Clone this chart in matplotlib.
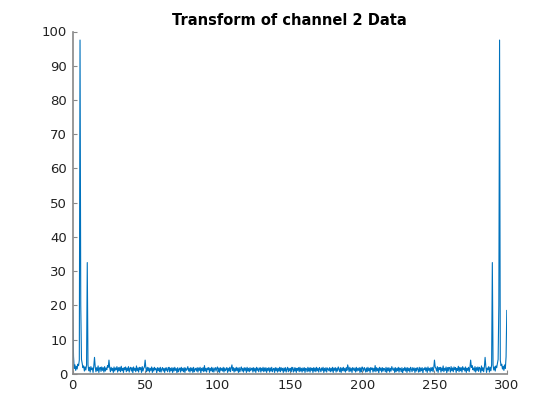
import numpy as np
import matplotlib
matplotlib.use("Agg")
import matplotlib.pyplot as plt

# spectrum magnitude, first half (0..150, step 0.5); the second half mirrors it
freq_step = 0.5
half_mag = [
    18.5, 5.0, 1.6, 2.6, 1.0, 2.2, 1.4, 2.8, 2.4, 4.0,
    97.5, 20.0, 4.2, 3.0, 1.8, 2.3, 0.8, 2.0, 1.1, 2.5,
    32.5, 2.6, 0.9, 1.9, 0.5, 2.1, 1.2, 1.7, 0.4, 2.2,
    4.8, 2.0, 0.6, 1.8, 0.9, 2.3, 0.4, 1.6, 1.9, 0.7,
    2.0, 1.0, 1.8, 0.5, 2.1, 0.8, 1.7, 1.2, 2.4, 1.9,
    4.0, 1.8, 0.6, 1.9, 1.0, 1.6, 0.4, 2.0, 0.8, 1.7,
    1.2, 2.1, 0.5, 1.8, 0.9, 1.9, 0.6, 2.2, 1.0, 1.6,
    0.4, 1.8, 1.2, 2.0, 0.6, 1.7, 0.9, 2.1, 0.5, 1.6,
    1.9, 0.8, 1.8, 0.3, 2.0, 1.0, 1.6, 0.6, 2.3, 0.9,
    1.7, 0.5, 1.9, 1.2, 1.8, 0.4, 2.1, 0.8, 1.6, 2.0,
    4.0, 1.7, 0.6, 1.9, 0.9, 1.8, 0.5, 1.6, 1.0, 2.0,
    0.4, 1.7, 0.8, 1.9, 1.2, 1.5, 0.3, 1.8, 0.9, 1.7,
    0.6, 1.9, 0.5, 1.4, 1.8, 0.8, 1.6, 0.4, 1.7, 1.0,
    1.8, 0.6, 1.4, 1.9, 0.5, 1.6, 0.9, 1.8, 0.4, 1.7,
    0.8, 1.9, 1.0, 1.5, 0.3, 1.8, 0.6, 1.4, 1.7, 0.5,
    1.9, 0.9, 1.6, 0.6, 1.8, 0.4, 1.7, 1.0, 1.4, 2.1,
    0.8, 1.6, 0.5, 1.8, 0.9, 1.7, 0.4, 1.9, 0.6, 1.4,
    1.6, 0.8, 1.8, 0.5, 1.7, 1.0, 1.9, 0.3, 1.6, 0.9,
    1.8, 0.6, 2.4, 0.8, 1.6, 0.5, 1.7, 1.2, 1.8, 0.4,
    1.6, 0.9, 1.9, 0.6, 1.7, 0.5, 1.4, 1.8, 0.8, 1.6,
    2.0, 0.6, 1.7, 0.4, 1.8, 1.0, 1.6, 0.8, 1.9, 0.5,
    1.7, 0.9, 1.4, 1.8, 0.4, 1.6, 0.8, 1.9, 0.6, 1.7,
    2.6, 1.0, 1.8, 0.5, 1.6, 0.8, 1.9, 0.9, 1.7, 0.4,
    1.8, 0.6, 1.4, 2.0, 0.8, 1.6, 0.5, 1.8, 1.0, 1.7,
    0.4, 1.9, 0.8, 1.6, 0.6, 1.8, 0.9, 1.4, 1.7, 0.5,
    1.8, 0.8, 1.6, 0.4, 1.9, 1.0, 1.7, 0.6, 1.4, 1.8,
    0.5, 1.6, 0.9, 1.9, 0.6, 1.7, 0.8, 1.8, 0.4, 1.6,
    1.0, 1.8, 0.5, 1.7, 0.8, 1.9, 0.6, 1.4, 1.6, 0.4,
    1.8, 0.9, 1.7, 0.5, 1.6, 0.8, 1.9, 0.6, 1.8, 1.0,
    1.6, 0.4, 1.7, 0.8, 1.8, 0.5, 1.4, 1.9, 0.6, 1.6,
    0.9,
]

title = "Transform of channel 2 Data"
x_ticks = [0, 50, 100, 150, 200, 250, 300]
y_ticks = [0, 10, 20, 30, 40, 50, 60, 70, 80, 90, 100]

mag = np.array(half_mag + half_mag[-2::-1])
freq = np.arange(len(mag)) * freq_step

fig = plt.figure(figsize=(5.6, 4.2), dpi=100)
ax = fig.add_axes([0.13, 0.11, 0.775, 0.815])
ax.plot(freq, mag, color="#0072BD", linewidth=0.8)

ax.set_xlim(0, 300)
ax.set_ylim(0, 100)
ax.set_xticks(x_ticks)
ax.set_yticks(y_ticks)
ax.set_title(title, fontsize=10.5, fontweight="bold", pad=5)

for side in ["top", "right"]:
    ax.spines[side].set_visible(False)
for side in ["left", "bottom"]:
    ax.spines[side].set_color("#888888")
    ax.spines[side].set_linewidth(1.2)
ax.tick_params(direction="in", length=3, width=0.8, color="#888888",
               labelsize=9.5, labelcolor="#222222", pad=4)

fig.savefig("out.png", dpi=100)
